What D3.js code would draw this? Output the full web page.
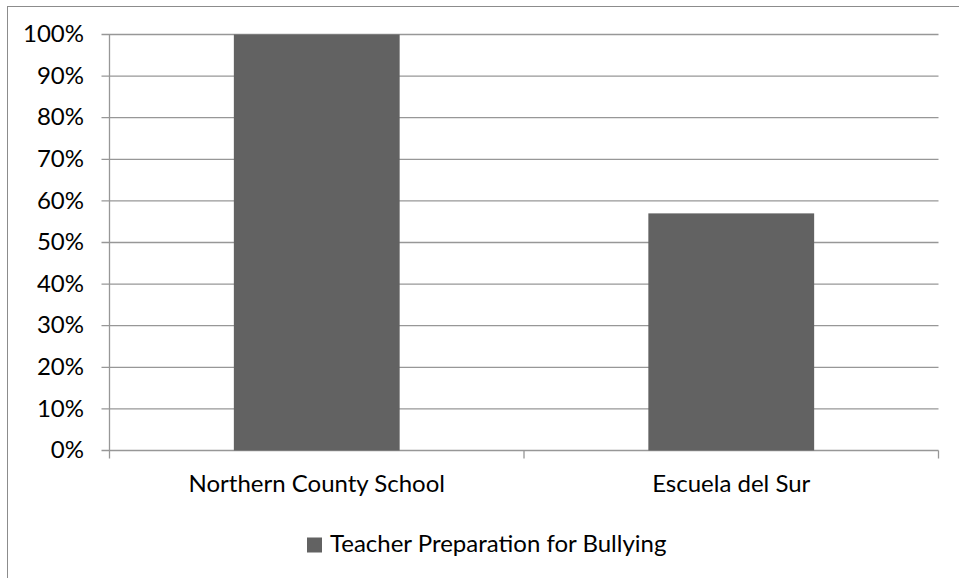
<!DOCTYPE html>
<html><head><meta charset="utf-8">
<script src="https://cdn.jsdelivr.net/npm/d3@7"></script>
<style>body{margin:0;background:#fff}svg{display:block}text{font-family:Lato,"Open Sans",sans-serif;fill:#000}</style>
</head><body>
<svg id="c" width="959" height="578"></svg>
<script>
const categories = ["Northern County School", "Escuela del Sur"];
const values = [100, 57];
const seriesName = "Teacher Preparation for Bullying";
const yTicks = [0,10,20,30,40,50,60,70,80,90,100];

(function(){
const svg = d3.select("#c");
const pLeft = 109.5, pRight = 938.5, pTop = 34.5, pBottom = 450.5;
const grid = "#979797", barColor = "#626262";
const fs = 24;

svg.append("rect").attr("x",7.5).attr("y",6.5).attr("width",970).attr("height",600)
  .attr("fill","#fff").attr("stroke","#8c8c8c").attr("stroke-width",1);

const x = d3.scaleBand().domain(categories).range([pLeft,pRight]).paddingInner(0.6).paddingOuter(0.3);
const y = d3.scaleLinear().domain([0,100]).range([pBottom,pTop]);

svg.append("g").selectAll("line").data(yTicks).join("line")
  .attr("x1",pLeft-8).attr("x2",pRight).attr("y1",d=>y(d)).attr("y2",d=>y(d))
  .attr("stroke",grid).attr("stroke-width",1.3);

svg.append("g").selectAll("rect").data(values).join("rect")
  .attr("x",(d,i)=>x(categories[i])).attr("width",x.bandwidth())
  .attr("y",d=>y(d)).attr("height",d=>pBottom-y(d)).attr("fill",barColor);

svg.append("line").attr("x1",pLeft).attr("x2",pLeft).attr("y1",pTop).attr("y2",pBottom)
  .attr("stroke",grid).attr("stroke-width",1.3);
const bounds = [pLeft, ...categories.map((c,i)=> i<categories.length-1 ? (x(c)+x.bandwidth()+x(categories[i+1]))/2 : pRight)];
svg.append("g").selectAll("line").data(bounds).join("line")
  .attr("x1",d=>d).attr("x2",d=>d).attr("y1",pBottom).attr("y2",pBottom+8)
  .attr("stroke",grid).attr("stroke-width",1.3);

svg.append("g").selectAll("text").data(yTicks).join("text")
  .attr("x",84).attr("y",d=>y(d)).attr("dy","0.32em").attr("text-anchor","end")
  .attr("font-size",fs).text(d=>d+"%");

svg.append("g").selectAll("text").data(categories).join("text")
  .attr("x",d=>x(d)+x.bandwidth()/2).attr("y",491.5).attr("text-anchor","middle")
  .attr("font-size",fs).text(d=>d);

svg.append("rect").attr("x",307).attr("y",537.5).attr("width",15).attr("height",15).attr("fill",barColor);
svg.append("text").attr("x",330).attr("y",552).attr("font-size",fs).text(seriesName);
})();
</script>
</body></html>
